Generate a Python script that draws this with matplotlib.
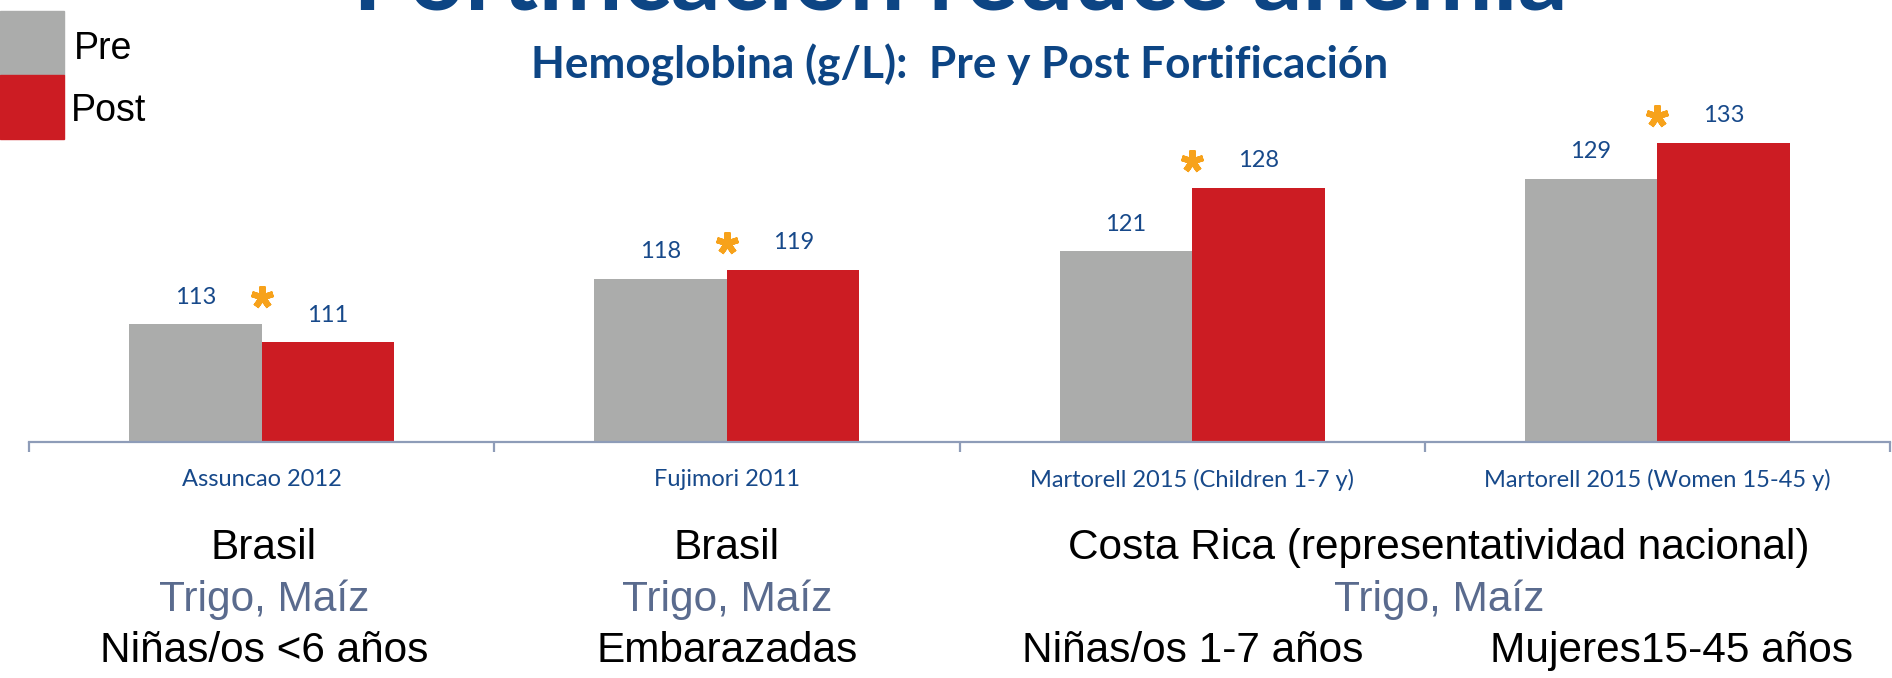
import matplotlib
matplotlib.use("Agg")
import numpy as np
import matplotlib.pyplot as plt
from matplotlib.patches import Rectangle
from matplotlib.transforms import offset_copy

# data
studies = ["Assuncao 2012", "Fujimori 2011",
           "Martorell 2015 (Children 1-7 y)", "Martorell 2015 (Women 15-45 y)"]
pre_vals = [113, 118, 121, 129]
post_vals = [111, 119, 128, 133]
significant = [True, True, True, True]

title_txt = "Fortificación reduce anemia"
subtitle_txt = "Hemoglobina (g/L):  Pre y Post Fortificación"

GRAY = "#ABACAB"
RED = "#CC1C23"
BLUE = "#17498A"
TITLE_BLUE = "#0D4584"
SLATE = "#5A6B8E"
ORANGE = "#F7A21B"
AXIS_COL = "#8E9CB8"

W, H = 1892, 678
fig = plt.figure(figsize=(W / 100, H / 100), dpi=100)
fig.patch.set_facecolor("white")


def fx(px):
    return px / W


def fy(py):
    return 1 - py / H


ax = fig.add_axes([fx(29), fy(442), fx(1890) - fx(29), fy(100) - fy(442)])
x = np.arange(len(studies))
bw = 0.285
ax.bar(x - bw / 2, [v - 100 for v in pre_vals], bw, bottom=100, color=GRAY, zorder=2)
ax.bar(x + bw / 2, [v - 100 for v in post_vals], bw, bottom=100, color=RED, zorder=2)
ax.set_xlim(-0.5, len(studies) - 0.5)
ax.set_ylim(100, 137.7)

for s in ["top", "left", "right"]:
    ax.spines[s].set_visible(False)
ax.spines["bottom"].set_color(AXIS_COL)
ax.spines["bottom"].set_linewidth(1.6)
ax.set_yticks([])
ax.set_xticks(x)
ax.set_xticklabels(studies, fontsize=17, color=BLUE, family="Lato")
ax.tick_params(axis="x", which="major", length=0, pad=19.5)
ax.set_xticks(np.arange(-0.5, len(studies)), minor=True)
ax.tick_params(axis="x", which="minor", length=7.5, width=1.6, color=AXIS_COL)

lab_tr = offset_copy(ax.transData, fig=fig, y=27, units="dots")
for i in range(len(studies)):
    ax.text(x[i] - bw / 2, pre_vals[i], str(pre_vals[i]), transform=lab_tr,
            ha="center", va="center", fontsize=17, color=BLUE, family="Lato")
    ax.text(x[i] + bw / 2, post_vals[i], str(post_vals[i]), transform=lab_tr,
            ha="center", va="center", fontsize=17, color=BLUE, family="Lato")
    if significant[i]:
        ax.plot(x[i], max(pre_vals[i], post_vals[i]), transform=lab_tr,
                marker=(5, 2, 0), ms=16, mew=4.4, color=ORANGE, clip_on=False)

# legend swatches
fig.patches.append(Rectangle((0, fy(75)), fx(64), fy(11) - fy(75),
                             transform=fig.transFigure, color=GRAY))
fig.patches.append(Rectangle((0, fy(139)), fx(64), fy(75) - fy(139),
                             transform=fig.transFigure, color=RED))
fig.text(fx(74), fy(59), "Pre", fontsize=27, family="Liberation Sans",
         va="baseline", ha="left")
fig.text(fx(71), fy(121), "Post", fontsize=27, family="Liberation Sans",
         va="baseline", ha="left")

# titles (font size fitted to the width in the reference)
renderer = fig.canvas.get_renderer()


def fit_text(t, width_px):
    bb = t.get_window_extent(renderer)
    t.set_fontsize(t.get_fontsize() * width_px / bb.width)


t1 = fig.text(fx(960), fy(10), title_txt, fontsize=60, weight="bold",
              family="Lato", color=TITLE_BLUE, ha="center", va="baseline")
fit_text(t1, 1214)
t2 = fig.text(fx(960), fy(79), subtitle_txt, fontsize=28, weight="bold",
              family="Lato", color=TITLE_BLUE, ha="center", va="baseline")
fit_text(t2, 857)

# country / food / population notes
bt = dict(fontsize=30.5, family="Liberation Sans", ha="center", va="baseline")
row1, row2, row3 = fy(559), fy(611), fy(662)
fig.text(fx(264), row1, "Brasil", color="black", **bt)
fig.text(fx(264), row2, "Trigo, Maíz", color=SLATE, **bt)
fig.text(fx(264), row3, "Niñas/os <6 años", color="black", **bt)
fig.text(fx(727), row1, "Brasil", color="black", **bt)
fig.text(fx(727), row2, "Trigo, Maíz", color=SLATE, **bt)
fig.text(fx(727), row3, "Embarazadas", color="black", **bt)
fig.text(fx(1439), row1, "Costa Rica (representatividad nacional)", color="black", **bt)
fig.text(fx(1439), row2, "Trigo, Maíz", color=SLATE, **bt)
fig.text(fx(1193), row3, "Niñas/os 1-7 años", color="black", **bt)
fig.text(fx(1671), row3, "Mujeres15-45 años", color="black", **bt)

fig.savefig("out.png", dpi=100, facecolor="white")
